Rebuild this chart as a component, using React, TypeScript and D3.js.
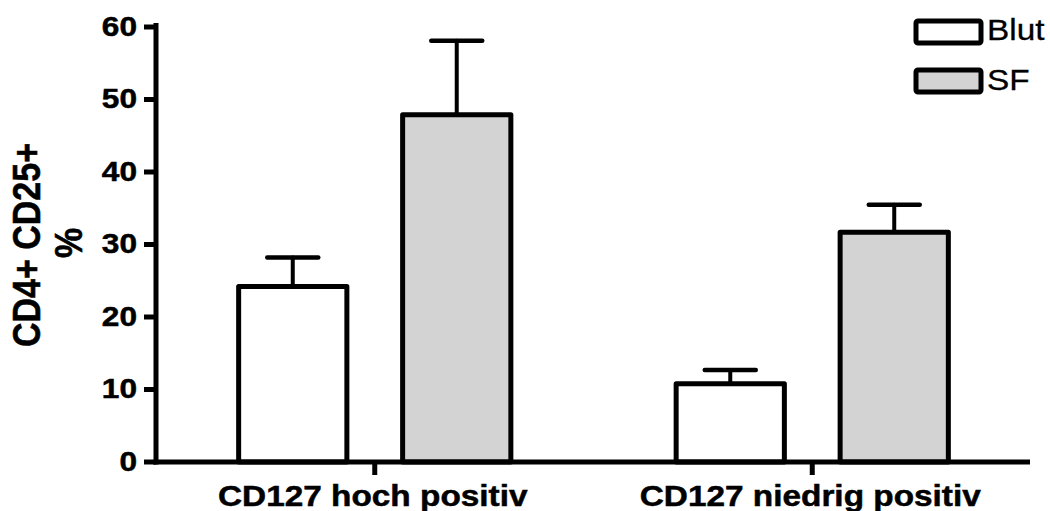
import React from "react";
import * as d3 from "d3";

const categories = ["CD127 hoch positiv", "CD127 niedrig positiv"];
const series = ["Blut", "SF"];
const blutMeans = [24.2, 10.8];
const blutErr = [28.2, 12.7];
const sfMeans = [47.9, 31.7];
const sfErr = [58.1, 35.5];
const yTicks = [0, 10, 20, 30, 40, 50, 60];
const seriesFill = ["#ffffff", "#d3d3d3"];
const yLabelLines = ["CD4+ CD25+", "%"];

const W = 1050;
const H = 511;
const FONT = "'Liberation Sans', Arial, Helvetica, sans-serif";
const SX = 1.15;

export default function App() {
  const y = d3.scaleLinear().domain([0, 60]).range([462, 27]);
  const x0 = d3.scaleBand<string>().domain(categories).range([156, 1031]).paddingInner(0).paddingOuter(0);
  const x1 = d3
    .scaleBand<string>()
    .domain(series)
    .range([0, x0.bandwidth()])
    .paddingInner(0.34)
    .paddingOuter(0.504);

  const bars = categories.flatMap((c, i) => [
    { c, s: series[0], v: blutMeans[i], e: blutErr[i], fill: seriesFill[0] },
    { c, s: series[1], v: sfMeans[i], e: sfErr[i], fill: seriesFill[1] },
  ]);

  const axisY0 = y(0);
  const boldText = { fontWeight: "bold" as const, fill: "#000", stroke: "#000", strokeWidth: 0.5 };

  return (
    <svg
      width={W}
      height={H}
      style={{ position: "absolute", left: 0, top: 0, background: "#fff" }}
      fontFamily={FONT}
    >
      {/* error bars */}
      {bars.map((b, i) => {
        const cx = (x0(b.c) as number) + (x1(b.s) as number) + x1.bandwidth() / 2;
        return (
          <g key={"e" + i} stroke="#000" strokeLinecap="round">
            <line x1={cx} x2={cx} y1={y(b.v)} y2={y(b.e)} strokeWidth={4} />
            <line x1={cx - 25.5} x2={cx + 25.5} y1={y(b.e)} y2={y(b.e)} strokeWidth={4.5} />
          </g>
        );
      })}
      {/* bars */}
      {bars.map((b, i) => {
        const bx = (x0(b.c) as number) + (x1(b.s) as number);
        return (
          <rect
            key={"b" + i}
            x={bx}
            y={y(b.v)}
            width={x1.bandwidth()}
            height={axisY0 - y(b.v)}
            fill={b.fill}
            stroke="#000"
            strokeWidth={5}
            strokeLinejoin="round"
          />
        );
      })}
      {/* y axis */}
      <line x1={156} x2={156} y1={464.5} y2={23} stroke="#000" strokeWidth={5} />
      {yTicks.map((t) => (
        <g key={"t" + t}>
          <line x1={144} x2={156} y1={y(t)} y2={y(t)} stroke="#000" strokeWidth={5} />
          <text
            transform={`translate(137,${y(t) + 8.5}) scale(${SX},1)`}
            textAnchor="end"
            fontSize={27.5}
            {...boldText}
          >
            {t}
          </text>
        </g>
      ))}
      {/* x axis */}
      <line x1={153.5} x2={1030} y1={axisY0} y2={axisY0} stroke="#000" strokeWidth={5} />
      {categories.map((c) => {
        const cx = (x0(c) as number) + x0.bandwidth() / 2;
        return (
          <g key={"c" + c}>
            <line x1={cx} x2={cx} y1={axisY0} y2={475} stroke="#000" strokeWidth={5} />
            <text
              transform={`translate(${cx - 2},506) scale(${SX},1)`}
              textAnchor="middle"
              fontSize={29}
              {...boldText}
            >
              {c}
            </text>
          </g>
        );
      })}
      {/* y label */}
      <text
        transform={`translate(40,245) scale(${SX},1) rotate(-90)`}
        textAnchor="middle"
        fontSize={34}
        {...boldText}
      >
        {yLabelLines[0]}
      </text>
      <text
        transform={`translate(81.5,243) scale(${SX},1) rotate(-90)`}
        textAnchor="middle"
        fontSize={34}
        {...boldText}
      >
        {yLabelLines[1]}
      </text>
      {/* legend */}
      {series.map((s, i) => (
        <g key={"l" + s}>
          <rect
            x={916}
            y={21 + i * 49}
            width={65}
            height={22}
            fill={seriesFill[i]}
            stroke="#000"
            strokeWidth={5}
            rx={2}
          />
          <text
            transform={`translate(987,${40 + i * 50}) scale(${SX},1)`}
            fontSize={29}
            fill="#000"
            stroke="#000"
            strokeWidth={0.3}
          >
            {s}
          </text>
        </g>
      ))}
    </svg>
  );
}
